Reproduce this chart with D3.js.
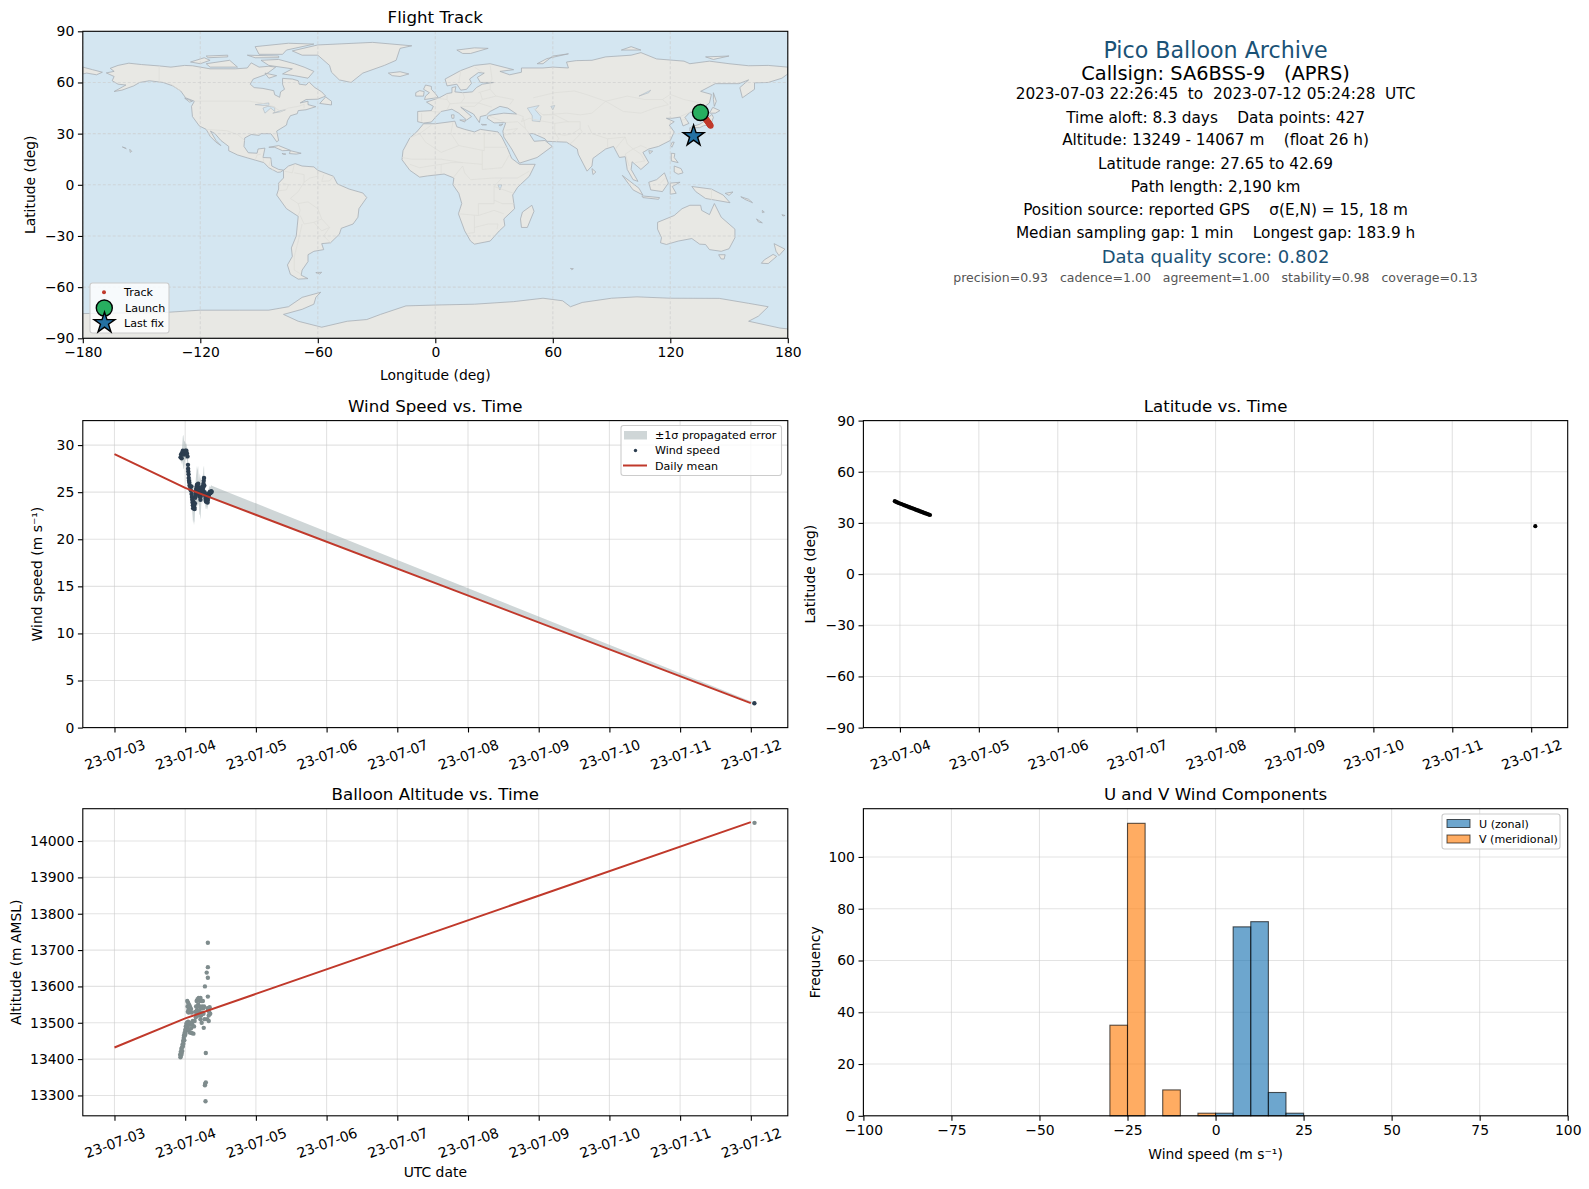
<!DOCTYPE html>
<html>
<head>
<meta charset="utf-8">
<script src="https://cdn.jsdelivr.net/npm/d3@7"></script>
<style>
body { margin: 0; background: white; }
svg { display: block; }
text { font-family: "DejaVu Sans", sans-serif; fill: black; white-space: pre; }
</style>
</head>
<body>
<svg id="fig" width="1589" height="1189"></svg>
<script>
// land outlines as [lon, lat]
const land = [
  [[-168,65.6],[-164,66.5],[-166,68.3],[-162,70],[-156.5,71.3],[-150,70.5],[-141,69.7],[-135,69],[-128,70],[-124,69.8],[-115,68],[-108,68],[-102,68],[-96,68.5],[-94,71.5],[-90,69],[-85,69.5],[-81.5,69],[-85,66],[-87,64.5],[-93,62],[-94.5,59],[-92.5,57],[-88,56.5],[-82.5,55.2],[-82,52.8],[-79.5,51.3],[-79,54.5],[-77,56],[-78,59],[-78,62.4],[-73,62],[-70,61],[-69.5,59],[-66,58.5],[-64.5,60.3],[-61.5,57],[-58,54.5],[-56,52],[-60,50.2],[-66,50],[-69,48],[-65,49],[-65,47],[-61,45.8],[-66,44],[-70,43.5],[-70.5,41.7],[-74,40.5],[-75.5,37.5],[-76,35],[-81,31.5],[-80,26],[-81,25.2],[-82.7,28],[-84,30],[-89,30],[-90,29],[-94,29.5],[-97.3,27.5],[-97.7,22.5],[-95.5,18.8],[-91,18.5],[-90.5,21],[-87,21.5],[-88,16],[-84,15.8],[-83.5,11],[-80,9],[-77.5,8.6],[-79,7.5],[-80.5,7.3],[-85,10],[-87.5,13],[-92,14.5],[-96,15.8],[-101,17.5],[-105.5,20],[-105.5,22.5],[-109.5,26],[-112.5,30],[-114.8,31.5],[-112,26],[-109.5,23],[-112,25],[-115,28.5],[-117,32.5],[-120.5,34.5],[-124,40],[-124.5,46],[-123,49],[-127.5,51],[-130,55],[-134,58],[-139,60],[-146,61],[-151,60],[-154,58],[-160,55.5],[-164,54.7],[-158,58.5],[-162,59],[-165,61],[-164,63.5]],
  [[-73,78.5],[-60,82],[-32,83.5],[-12,81.5],[-18,80],[-20,73],[-26,70],[-37,65.5],[-43,60],[-49,61.5],[-53,66],[-54,70],[-60,76],[-68,76]],
  [[-80,73.5],[-72,71],[-67,69],[-62,66.5],[-65,62.5],[-72,64],[-78,65],[-73,68],[-85,70],[-89,73]],
  [[-90,76.5],[-78,76.5],[-76,79],[-62,82.5],[-75,83],[-92,81]],
  [[-117,71],[-105,73],[-101,69],[-115,69]],
  [[-125,72],[-118,74.5],[-115,73],[-120,71]],
  [[-96,76],[-80,75.5],[-80,74.5],[-92,74.5]],
  [[-117,75.5],[-106,76],[-106,75],[-116,74.5]],
  [[-87,65.5],[-81,64],[-85,62.5]],
  [[-59,47.7],[-53,46.8],[-53,49],[-56,51.5]],
  [[-128,50.8],[-124,49],[-125.5,48.5]],
  [[-85,22],[-80,23],[-74,20.2],[-78,20],[-82,22]],
  [[-74,20],[-68.5,18.5],[-71,18],[-74.5,18.3]],
  [[-78.3,18.4],[-76.3,18],[-77.5,17.8]],
  [[-156,20.8],[-155,19.6],[-155.8,19]],
  [[-159.8,22.2],[-158,21.4],[-157.8,21.2]],
  [[-77.5,8.5],[-75,11],[-71.5,12.4],[-68,11],[-62,10.5],[-60,8.5],[-52,5],[-50,0.5],[-44,-2.5],[-37,-4.8],[-35,-7.5],[-39,-14],[-39.5,-19],[-42,-23],[-48,-25.5],[-49,-29],[-53.5,-34],[-58,-34.5],[-57,-38],[-62,-39],[-65,-41],[-65,-45],[-68,-50],[-68.5,-53],[-65,-55],[-70,-55.3],[-74,-52.5],[-75.5,-47],[-73,-42],[-73.5,-37],[-71,-30],[-70,-18.5],[-76,-14],[-81,-6],[-80,-2.5],[-80,1],[-77.5,4]],
  [[-61,-51.5],[-58,-51.3],[-59,-52.3]],
  [[-6,35.8],[0,35.8],[10,37.3],[11,34],[15,32.5],[20,31],[23,32.5],[32,31],[34,28],[37,21],[39,15.5],[43,12],[51,12],[48,5],[42,-1.5],[39.5,-6],[40.5,-14],[35,-20],[35.5,-24],[32.7,-27],[28,-33],[20,-34.8],[18,-33],[15,-27],[11.8,-17],[13.5,-11],[12,-5],[9,0],[9.5,4],[4.5,6.3],[-4,5.2],[-8,4.5],[-13,8.5],[-17,14.7],[-16.5,20],[-13,27.5],[-9.5,31]],
  [[49.3,-12],[50.4,-15.5],[47,-25],[44,-25],[43.5,-20],[44.5,-16]],
  [[-9,37],[-9,43],[-2,43.5],[-1,46],[-4.5,48.5],[2,51],[6,53.5],[8.5,54],[8.5,57],[10.5,57.5],[10,54.5],[14,54],[19,54.5],[21,57],[24,59],[30,60],[23,60],[21.5,63],[25,65.5],[22,65.8],[17.5,62],[18.5,59.5],[16,56],[13,55.5],[11,59],[6,58],[5,62],[13,67],[20,70],[28,71],[40,67.5],[33,66.5],[38,64.5],[44,66],[44,68.5],[55,68.5],[60,69],[68,68.5],[67,72],[72,72.8],[80,73],[87,75],[100,76],[105,77.5],[113,73.8],[127,72.5],[130,71],[140,72.5],[150,71],[160,69.8],[170,70],[180,69],[180,65],[177,62.5],[170,60],[163,59.8],[163,56],[156.8,51],[155.5,57],[160,61.5],[155,59.3],[143,59.3],[135.5,54.8],[141,53],[140,48],[135,43.5],[130,42.5],[127.5,39.5],[129.5,36],[126.5,34.5],[125,39.7],[121,39],[118,39],[122,37],[119.5,35],[122,31],[120,26],[114,22.5],[109,21],[106,19],[109,13],[105,9],[100.5,13.5],[100,9],[103.5,2],[101,3],[98,9],[97,16.5],[94,16],[91,22.5],[87,21],[80.5,15.5],[80,11],[77.5,8],[73,18],[72.5,21],[67,25],[57,25.5],[56,27],[50,30],[48,30],[50.5,25.5],[56,26],[59.7,22.5],[52,16],[43,12.7],[39,21],[35,28],[34.5,31.5],[36,36.5],[30,36.3],[26.5,39],[27,40.5],[29,41],[35,42],[41.5,41.5],[37,45],[33,46],[28,43],[26,40.8],[23,40],[22.5,36.5],[19.5,41.5],[13,45.5],[18.5,40],[16,38],[12,42],[8.5,44.3],[3,43],[0,39.5],[-2,36.8],[-6,36.2]],
  [[-180,69],[-175,67.5],[-170,66],[-173,64.5],[-178,65.5],[-180,65]],
  [[130.9,34],[135,35.5],[137,37],[140,40],[141.3,41.3],[142,39.5],[140.8,35.7],[137,34.6],[135,33.5],[132,33.5]],
  [[140,42],[141.7,45.4],[145.3,43.5],[143,42]],
  [[130,33.5],[131.8,33],[131,31],[130,31.5]],
  [[142,54],[143.5,49],[142.5,46],[142,50]],
  [[121,25],[122,25],[120.8,22],[120.2,23]],
  [[109,20],[111,19.7],[109.5,18.2]],
  [[80,9.5],[82,7.5],[80.5,6]],
  [[120.5,18.5],[122.3,18.3],[122,16],[124,13],[120.5,14]],
  [[122,11],[125.5,9.5],[126.5,7],[124,6.2],[122,7.5]],
  [[95.5,5.5],[104,-2],[106,-6],[101,-3]],
  [[105.5,-6.5],[114.5,-7.5],[114,-8.5],[106,-7.5]],
  [[109,1.5],[113,3],[117,7],[119,1],[116,-4],[110,-3]],
  [[120,1],[125,1.5],[121,-1],[123,-5],[120,-5.5]],
  [[131,-1],[141,-2.5],[147,-6],[150.5,-10.5],[143,-9],[138,-8],[133,-4]],
  [[148,-5],[152,-4.2],[150,-6.2]],
  [[156,-7],[160,-8.5],[162,-10.5],[158,-8.5]],
  [[164,-20],[167,-22.3],[165,-21.8]],
  [[167,-15],[168,-16],[167,-16.3]],
  [[177,-17.5],[178.6,-18],[177.5,-18.3]],
  [[113.5,-22],[122,-18],[126,-14],[130,-12],[135.5,-12],[136,-15],[140,-17.5],[142.5,-11],[146,-19],[153,-26],[153,-31],[150,-37.5],[146,-39],[140,-38],[138,-35],[135,-34.8],[131,-31.5],[124,-33],[118,-35],[115,-34],[115.5,-31],[113.5,-26]],
  [[144.7,-41],[148,-41],[147.5,-43.5],[146,-43.5]],
  [[173,-34.5],[178.5,-37.7],[175.5,-41.5],[174,-39]],
  [[172.5,-40.8],[174.3,-42],[170,-46.2],[166.5,-46],[168,-44]],
  [[-5.5,50],[1.5,51.2],[0,53.5],[-2,56],[-2,57.7],[-5,58.5],[-6,56],[-3,54],[-5,52]],
  [[-10,52],[-6,52],[-5.7,54.7],[-8,55.2],[-10,54]],
  [[-24,65.5],[-18,66.3],[-13.5,65],[-18,63.5],[-22,64]],
  [[11,79],[20,80.3],[27,80],[18,77],[14,77]],
  [[52,71],[57,74],[68,76.8],[60,75.5],[55,71]],
  [[95,79],[105,79],[100,81]],
  [[138,75],[150,75.5],[142,73.5]],
  [[12.5,38],[15.5,38],[15,36.8]],
  [[8.2,41],[9.6,41],[9.5,39],[8.5,39]],
  [[23.5,35.5],[26.2,35.2],[24,35]],
  [[32.5,35],[34.5,35.6],[33.5,34.6]],
  [[69,-49],[70.5,-49.2],[69.7,-49.8]],
  [[-180,-90],[-180,-75.5],[-150,-75],[-140,-75],[-120,-73.5],[-100,-73.5],[-85,-73.5],[-75,-71.5],[-68,-66],[-58.5,-63],[-61,-66],[-62,-70],[-68,-73],[-77.5,-76],[-70,-80],[-58,-83.5],[-45,-80],[-35,-79],[-28,-76],[-15,-71],[0,-70.5],[20,-70],[40,-68.5],[55,-66.5],[65,-68],[69,-71.5],[75,-69],[90,-66.5],[103,-65.7],[120,-66.5],[145,-66.6],[160,-69.5],[170,-71.5],[165,-77],[160,-80],[176,-84],[180,-84.5],[180,-90]]
];
const lakes = [
  [[47,45],[53,46.5],[51,44],[54,40],[53.5,37],[49.5,37.5],[49.5,40.5]],
  [[-92,47],[-85,48],[-85,46.5],[-88,46.5]],
  [[-88,45],[-85.5,46],[-82,45.5],[-82,43],[-84,45],[-87,42]],
  [[-83,42],[-79,43.5],[-76.5,44],[-79,42.8]],
  [[59,46],[61,46.5],[60,44]],
  [[32,0],[34,0],[33,-3]],
  [[104,52],[110,55.5],[109,54]]
];
const borders = [
  [[-123,49],[-95,49],[-89,48],[-83,46],[-79,43],[-75,45],[-70,46],[-67,47.2],[-67,45]],
  [[-141,69.7],[-141,60]],[[-135,59],[-130,55]],
  [[-117,32.5],[-106.5,31.7],[-101,29.5],[-97.3,26]],
  [[-92,14.5],[-91,17.5],[-89,18]],[[-88,16],[-87.5,13]],[[-84,15],[-85,11]],[[-83,9.5],[-83,8]],
  [[-77,8],[-73,7],[-72,12]],[[-72,7],[-67,6],[-67,1.5],[-70,-4],[-74,-8],[-70,-11],[-69,-15],[-70,-18]],
  [[-60,8.5],[-60,5],[-64,4],[-67,1.5]],[[-57,6],[-58,2],[-54,2.3],[-52,5]],
  [[-80,-3.5],[-76,-3],[-75,0],[-78,1]],[[-70,-11],[-65,-10],[-60,-14],[-58,-20],[-54,-25],[-57,-30],[-53.5,-34]],
  [[-58,-20],[-62,-22],[-67,-23],[-69,-18]],[[-62,-22],[-58,-27],[-54,-25]],[[-68,-23],[-70,-33],[-72,-42],[-72,-50],[-68.5,-52.5]],
  [[-2,35],[-8,30],[-13,27.5]],[[9,37],[8,30],[12,23],[25,20],[25,31]],[[-8,30],[-5,25],[3,19],[12,23]],[[25,22],[37,22]],
  [[-17,16],[-12,15],[-5,15],[3,15],[14,13],[24,12],[24,20]],[[-13,12],[-8,10],[-3,11],[3,12],[8,13],[14,13]],
  [[3,12],[3,6.5]],[[9,4],[14,11],[15,7],[18,3],[30,4],[34,4],[42,4],[48,8]],[[24,12],[24,9],[34,10],[36,14],[38,18]],
  [[34,4],[30,-1],[30,-11],[22,-11],[22,-18],[12,-17]],[[30,-1],[40,-5]],[[30,-9],[34,-11],[40,-11]],
  [[22,-18],[30,-15],[35,-17]],[[20,-18],[20,-28],[16.5,-28.5]],[[20,-25],[27,-23],[32,-23],[31.5,-26]],
  [[-1,51],[6,50],[7.5,47.5],[6,44]],[[-2,43],[3,42.5]],[[-7,37],[-7,42]],[[6,53.5],[6,50]],[[14,54],[15,51],[13,48],[7.5,47.5]],
  [[23,54],[24,50],[22,48],[17,48],[13,48]],[[13,46],[20,46],[22,48],[29,45.5]],[[24,50],[31,52],[40,50],[38,47]],
  [[28,56],[28,60]],[[22,54],[28,56],[31,52]],[[28,70],[29,62],[28,60]],[[20,69],[24,66]],[[13,67],[12,60]],
  [[26,41],[36,36.5]],[[44,37],[45,40],[41.5,41.5]],[[36,36.5],[42,37],[46,33],[48,30]],[[36,32],[42,33],[39,30],[35,29]],
  [[46,33],[45,39]],[[44,37],[48,39],[54,37.5],[61,36],[61,31],[63,27],[61.5,25]],[[61,36],[67,37],[74,37],[74,33],[70,30],[66,29],[61,30]],
  [[74,33],[75,31],[70,25],[68,23.5]],[[78,35],[80,30],[88,27],[97,28],[94,24],[92,21]],[[88,27],[88,22]],[[97,28],[98,24],[101,21],[105,23],[108,21.5]],
  [[101,21],[97,18],[99,11]],[[101,21],[105,18],[107,14],[102,13]],[[50,45],[55,41],[61,41],[68,37]],[[55,41],[67,42],[74,41],[80,42],[87,49]],
  [[50,51],[61,54],[71,55],[77,53],[87,49]],[[87,49],[98,52],[107,50],[116,50],[120,53],[127,50],[135,48],[131,43]],[[87,49],[96,43],[105,42],[112,45],[119,47],[116,50]],
  [[125,40],[130,42.5]],[[126,38],[128.5,38.5]],[[141,-2.5],[141,-9]],[[115,1],[117.5,4]]
];

// track, hours after 2023-07-03 00:00 UTC
const latHours = [22.44,22.8,23.2,23.6,24,24.4,24.8,25.2,25.6,26,26.4,26.8,27.2,27.6,28,28.4,28.8,29.2,29.6,30,30.4,30.8,31.2,31.6,32,32.4,32.8,33.15,217.25];
const latDeg = [42.75,42.35,42.05,41.7,41.4,41.1,40.8,40.5,40.2,39.9,39.6,39.3,39,38.7,38.4,38.1,37.8,37.5,37.2,36.9,36.6,36.3,36,35.7,35.4,35.2,34.9,34.65,28.1];
const lonDeg = [135.4,135.6,135.8,136,136.2,136.4,136.6,136.8,137,137.2,137.4,137.6,137.8,138,138.2,138.4,138.6,138.8,139,139.2,139.4,139.6,139.8,140,140.1,140.2,140.4,140.6,131.9];

const windHours = [22.44,22.6,22.8,23,23.2,23.4,23.6,23.8,24,24.2,24.4,24.6,24.8,24.95,25,25.05,25.15,25.2,25.3,25.4,25.5,25.7,25.9,26.1,26.2,26.3,26.4,26.5,26.6,26.7,26.8,26.9,27,27.1,27.2,27.3,27.4,27.5,27.6,27.7,27.8,27.9,28,28.1,28.2,28.3,28.4,28.5,28.6,28.7,28.8,28.9,29,29.1,29.2,29.3,29.4,29.5,29.6,29.7,29.8,29.9,30,30.1,30.2,30.3,30.4,30.5,30.6,30.7,30.8,30.9,31,31.1,31.2,31.3,31.4,31.5,31.6,31.7,31.8,31.9,32,32.1,32.2,32.3,32.4,32.5,32.6,32.7,32.8,33,217.2];
const windSpeed = [28.7,29,28.6,29.2,29.4,29.3,29,29.2,29.4,29.3,29.4,29.1,28.8,27.9,27.5,27.2,26.9,26.5,26.2,26,25.7,25.6,25.2,25.6,24.8,24.5,24.2,23.9,23.6,23.3,24,23.8,23.6,23.4,23.2,23.8,24.4,24.6,24.9,25.2,25.4,25.6,25.8,25.6,25.4,25.6,25.9,25.4,25,24.8,24.6,24.7,24.8,24.5,24.2,24.6,24.9,25,25.2,25.4,25.6,25.4,25.2,25.5,25.9,26.2,26.5,25.7,25,24.8,24.6,24.3,24.1,24,24,24.2,24.3,24.1,23.9,24.2,24.5,24.6,24.7,24.8,24.9,25,25,24.9,24.9,25,25.1,25.05,2.58];
const windSigma = [0.5,0.6,0.6,0.9,1.5,1.8,1.5,1.2,0.9,0.8,0.8,0.7,0.8,0.9,0.9,0.9,0.9,0.9,1,1,1,1,1,1,1.1,1.2,1.3,1.4,1.6,1.6,1.9,2,2.1,1.6,1.3,1.2,1.2,1.3,1.5,1.6,1.7,1.9,2,2,1.9,1.9,1.9,1.6,1.4,1.2,1.9,2.1,2.2,2.2,2.1,1.9,1.6,1,1,1.1,1.3,1.3,1.4,1.5,1.6,1.5,1.3,1.1,1,0.9,0.9,0.9,0.9,0.8,0.8,0.8,0.8,0.8,0.8,0.7,0.7,0.7,0.7,0.65,0.65,0.65,0.65,0.65,0.65,0.65,0.65,0.64,0.05];
const windDays = ["2023-07-03","2023-07-04","2023-07-12"];
const windDailyMean = [29.05,25.45,2.6];

const altHours = [22.3,22.4,22.5,22.6,22.7,22.8,22.9,23,23.1,23.2,23.3,23.4,23.5,23.6,23.7,23.8,23.9,24,24.1,24.2,24.3,24.4,24.5,24.6,24.8,25,25.2,25.4,25.6,25.8,26,26.2,26.4,26.6,26.8,27,27.2,24.7,24.8,24.9,25,25.1,25.2,25.3,25.4,25.5,25.6,25.8,26,26.2,27.4,27.6,27.7,27.9,28,28.1,28.2,28.4,28.5,28.6,28.8,28.9,29,29.2,29.3,29.4,29.6,29.7,29.8,30,30.1,30.2,29.2,29.6,30.3,30.7,30.7,30.8,30.9,31,31,31.3,31.7,31.7,31.7,31.7,31.5,32,31.9,32.3,32.5,32,32.1,31.6,30.4,30.6,217.25];
const altMeters = [13412,13405,13420,13410,13428,13415,13432,13422,13440,13435,13450,13442,13458,13465,13452,13472,13465,13480,13470,13490,13478,13497,13485,13500,13490,13503,13480,13495,13473,13500,13485,13472,13495,13505,13470,13490,13505,13560,13545,13530,13555,13535,13528,13550,13540,13530,13545,13530,13538,13528,13530,13515,13545,13560,13535,13525,13565,13550,13520,13568,13545,13530,13560,13568,13540,13520,13560,13545,13528,13560,13540,13525,13510,13500,13486,13600,13328,13332,13284,13417,13336,13638,13720,13653,13624,13572,13510,13520,13535,13543,13525,13505,13530,13540,13545,13510,14050];
const altDays = ["2023-07-03","2023-07-04","2023-07-12"];
const altDailyMean = [13432,13512,14052];

const histEdges = d3.range(-100, 101, 5);
// counts per 5 m/s bin, starting at -100
const uCounts = [0,0,0,0,0,0,0,0,0,0,0,0,0,0,0,0,0,0,0,0,1,73,75,9,1,0,0,0,0,0,0,0,0,0,0,0,0,0,0,0];
const vCounts = [0,0,0,0,0,0,0,0,0,0,0,0,0,0,35,113,0,10,0,1,0,0,0,0,0,0,0,0,0,0,0,0,0,0,0,0,0,0,0,0];

const lonTicks = [-180,-120,-60,0,60,120,180];
const latTicks = [-90,-60,-30,0,30,60,90];
const dateTicksFull = ["2023-07-03","2023-07-04","2023-07-05","2023-07-06","2023-07-07","2023-07-08","2023-07-09","2023-07-10","2023-07-11","2023-07-12"];
const infoLines = [
  "2023-07-03 22:26:45  to  2023-07-12 05:24:28  UTC",
  "Time aloft: 8.3 days    Data points: 427",
  "Altitude: 13249 - 14067 m    (float 26 h)",
  "Latitude range: 27.65 to 42.69",
  "Path length: 2,190 km",
  "Position source: reported GPS    σ(E,N) = 15, 18 m",
  "Median sampling gap: 1 min    Longest gap: 183.9 h"
];

const colors = {ocean:"#d4e6f1", land:"#e8e8e4", coast:"#a8afb5", border:"#dcdcd8", red:"#c0392b", green:"#27ae60", star:"#2471a3", navy:"#2c3e50", slate:"#7f8c8d", band:"#95a5a6", grid:"#cccccc", title:"#1a5276"};

const svg = d3.select("#fig");
const leftX = [82.8, 787.8], rightX = [863.4, 1567.7];
const rowY = [[31.3, 338.3], [420.6, 727.6], [808.7, 1115.8]];
const parseDay = d3.utcParse("%Y-%m-%d");
const fmtDay = d3.utcFormat("%y-%m-%d");
const base = parseDay("2023-07-03");
const fromHours = h => new Date(base.getTime() + h * 3600000);
const DAY = 24;
const minus = d => String(d).replace("-", "−");

function makePanel(xr, yr, title, clipId) {
  let g = svg.append("g");
  g.append("clipPath").attr("id", clipId).append("rect")
    .attr("x", xr[0]).attr("y", yr[0]).attr("width", xr[1] - xr[0]).attr("height", yr[1] - yr[0]);
  g.append("text").attr("x", (xr[0] + xr[1]) / 2).attr("y", yr[0] - 8.5)
    .attr("text-anchor", "middle").style("font-size", "16.67px").text(title);
  return g;
}

function drawAxes(g, xr, yr, xAxis, yAxis, rotate) {
  let ax = g.append("g").attr("transform", `translate(0,${yr[1]})`)
    .call(xAxis.tickSizeOuter(0))
    .call(a => a.select(".domain").remove())
    .call(a => a.selectAll("text").style("font-size", "13.9px"))
    .call(a => a.selectAll("line").attr("stroke", "black").attr("stroke-width", 1.1).attr("y2", 4.9));
  if (rotate) {
    ax.selectAll(".tick text").attr("text-anchor", "middle").attr("dy", null).attr("y", 32)
      .attr("transform", "rotate(-20,0,27)");
  }
  g.append("g").attr("transform", `translate(${xr[0]},0)`)
    .call(yAxis.tickSizeOuter(0))
    .call(a => a.select(".domain").remove())
    .call(a => a.selectAll("text").style("font-size", "13.9px").attr("x", -8.5))
    .call(a => a.selectAll("line").attr("stroke", "black").attr("stroke-width", 1.1).attr("x2", -4.9));
  g.append("rect").attr("x", xr[0]).attr("y", yr[0]).attr("width", xr[1] - xr[0]).attr("height", yr[1] - yr[0])
    .attr("fill", "none").attr("stroke", "black").attr("stroke-width", 1.1);
}

function drawGrid(g, xVals, yVals, x, y, xr, yr, dashed) {
  let grid = g.append("g").attr("stroke", colors.grid).attr("stroke-width", 1.1)
    .attr("stroke-opacity", dashed ? 0.6 : 0.55);
  if (dashed) grid.attr("stroke-dasharray", "3,2");
  grid.selectAll(".gx").data(xVals).enter().append("line")
    .attr("x1", d => x(d)).attr("x2", d => x(d)).attr("y1", yr[0]).attr("y2", yr[1]);
  grid.selectAll(".gy").data(yVals).enter().append("line")
    .attr("x1", xr[0]).attr("x2", xr[1]).attr("y1", d => y(d)).attr("y2", d => y(d));
}

function legendBox(g, x, y, w, h) {
  g.append("rect").attr("x", x).attr("y", y).attr("width", w).attr("height", h).attr("rx", 2.5)
    .attr("fill", "white").attr("fill-opacity", 0.8).attr("stroke", "#cccccc").attr("stroke-width", 1.1);
}
function legendText(g, x, y, s) {
  g.append("text").attr("x", x).attr("y", y).style("font-size", "11.1px").text(s);
}
function xLabel(g, xr, y, s) {
  g.append("text").attr("x", (xr[0] + xr[1]) / 2).attr("y", y).attr("text-anchor", "middle").style("font-size", "13.9px").text(s);
}
function yLabel(g, x, yr, s) {
  g.append("text").attr("transform", `translate(${x},${(yr[0] + yr[1]) / 2}) rotate(-90)`)
    .attr("text-anchor", "middle").style("font-size", "13.9px").text(s);
}

// ---- map
{
  let xr = leftX, yr = rowY[0];
  let g = makePanel(xr, yr, "Flight Track", "clipMap");
  let x = d3.scaleLinear([-180, 180], xr);
  let y = d3.scaleLinear([-90, 90], [yr[1], yr[0]]);
  let line = d3.line().x(d => x(d[0])).y(d => y(d[1]));
  g.append("rect").attr("x", xr[0]).attr("y", yr[0]).attr("width", xr[1] - xr[0]).attr("height", yr[1] - yr[0]).attr("fill", colors.ocean);
  let m = g.append("g").attr("clip-path", "url(#clipMap)");
  m.selectAll(".land").data(land).enter().append("path")
    .attr("d", d => line(d) + "Z").attr("fill", colors.land).attr("stroke", colors.coast).attr("stroke-width", 0.8).attr("stroke-linejoin", "round");
  m.selectAll(".lake").data(lakes).enter().append("path")
    .attr("d", d => line(d) + "Z").attr("fill", colors.ocean).attr("stroke", colors.coast).attr("stroke-width", 0.5);
  m.selectAll(".border").data(borders).enter().append("path")
    .attr("d", d => line(d)).attr("fill", "none").attr("stroke", colors.border).attr("stroke-width", 0.7);
  drawGrid(m, lonTicks, latTicks, x, y, xr, yr, true);
  m.selectAll(".track").data(lonDeg.slice(0, -1)).enter().append("circle")
    .attr("cx", d => x(d)).attr("cy", (d, i) => y(latDeg[i])).attr("r", 3).attr("fill", colors.red);
  m.append("circle").attr("cx", x(lonDeg[0])).attr("cy", y(latDeg[0] - 0.4)).attr("r", 8)
    .attr("fill", colors.green).attr("stroke", "black").attr("stroke-width", 1.4);
  m.append("path").attr("d", d3.symbol(d3.symbolStar, 136)())
    .attr("transform", `translate(${x(lonDeg[lonDeg.length - 1])},${y(latDeg[latDeg.length - 1] + 0.5)})`)
    .attr("fill", colors.star).attr("stroke", "black").attr("stroke-width", 1.4);
  drawAxes(g, xr, yr, d3.axisBottom(x).tickValues(lonTicks).tickFormat(minus), d3.axisLeft(y).tickValues(latTicks).tickFormat(minus));
  xLabel(g, xr, 380, "Longitude (deg)");
  yLabel(g, 35, yr, "Latitude (deg)");
  legendBox(g, 90, 283, 79, 50);
  g.append("circle").attr("cx", 104).attr("cy", 292.3).attr("r", 2).attr("fill", colors.red);
  g.append("circle").attr("cx", 104.3).attr("cy", 308).attr("r", 8).attr("fill", colors.green).attr("stroke", "black").attr("stroke-width", 1.4);
  g.append("path").attr("d", d3.symbol(d3.symbolStar, 136)()).attr("transform", "translate(104.5,323)")
    .attr("fill", colors.star).attr("stroke", "black").attr("stroke-width", 1.4);
  legendText(g, 124, 296, "Track");
  legendText(g, 125, 312, "Launch");
  legendText(g, 124, 327, "Last fix");
}

// ---- text block
{
  let cx = (rightX[0] + rightX[1]) / 2;
  let put = (y, size, color, s) => svg.append("text").attr("x", cx).attr("y", y).attr("text-anchor", "middle")
    .style("font-size", size).style("fill", color).text(s);
  put(58, "22.2px", colors.title, "Pico Balloon Archive");
  put(79.5, "19.4px", "black", "Callsign: SA6BSS-9   (APRS)");
  let ys = [99, 122.5, 145, 168.5, 191.5, 214.5, 237.5];
  infoLines.forEach((s, i) => put(ys[i], "15.3px", "black", s));
  put(263, "18px", colors.title, "Data quality score: 0.802");
  put(282, "12.5px", "#555555", "precision=0.93   cadence=1.00   agreement=1.00   stability=0.98   coverage=0.13");
}

// ---- wind speed
{
  let xr = leftX, yr = rowY[1];
  let g = makePanel(xr, yr, "Wind Speed vs. Time", "clipWind");
  let x = d3.scaleUtc([fromHours(-0.448 * DAY), fromHours(9.523 * DAY)], xr);
  let y = d3.scaleLinear([0, 32.6], [yr[1], yr[0]]);
  let ticks = dateTicksFull.map(parseDay);
  drawGrid(g, ticks, [0, 5, 10, 15, 20, 25, 30], x, y, xr, yr);
  let body = g.append("g").attr("clip-path", "url(#clipWind)");
  let band = d3.area().x(d => x(fromHours(d))).y0((d, i) => y(windSpeed[i] - windSigma[i])).y1((d, i) => y(windSpeed[i] + windSigma[i]));
  body.append("path").attr("d", band(windHours)).attr("fill", colors.band).attr("fill-opacity", 0.45);
  body.selectAll(".pt").data(windHours).enter().append("circle")
    .attr("cx", d => x(fromHours(d))).attr("cy", (d, i) => y(windSpeed[i])).attr("r", 2.2).attr("fill", colors.navy);
  let mean = d3.line().x((d, i) => x(parseDay(windDays[i]))).y(d => y(d));
  body.append("path").attr("d", mean(windDailyMean)).attr("fill", "none").attr("stroke", colors.red).attr("stroke-width", 2);
  drawAxes(g, xr, yr, d3.axisBottom(x).tickValues(ticks).tickFormat(fmtDay), d3.axisLeft(y).tickValues([0, 5, 10, 15, 20, 25, 30]), true);
  yLabel(g, 42, yr, "Wind speed (m s⁻¹)");
  legendBox(g, 621, 425.5, 160.5, 50);
  g.append("rect").attr("x", 624).attr("y", 431).attr("width", 23).attr("height", 8.5).attr("fill", colors.band).attr("fill-opacity", 0.45);
  g.append("circle").attr("cx", 635.5).attr("cy", 450.5).attr("r", 1.7).attr("fill", colors.navy);
  g.append("line").attr("x1", 623).attr("x2", 647).attr("y1", 465.5).attr("y2", 465.5).attr("stroke", colors.red).attr("stroke-width", 2);
  legendText(g, 655, 439, "±1σ propagated error");
  legendText(g, 655, 454, "Wind speed");
  legendText(g, 655, 470, "Daily mean");
}

// ---- latitude
{
  let xr = rightX, yr = rowY[1];
  let g = makePanel(xr, yr, "Latitude vs. Time", "clipLat");
  let x = d3.scaleUtc([fromHours((1 - 0.463) * DAY), fromHours((9 + 0.4626) * DAY)], xr);
  let y = d3.scaleLinear([-90, 90], [yr[1], yr[0]]);
  let ticks = dateTicksFull.slice(1).map(parseDay);
  drawGrid(g, ticks, latTicks, x, y, xr, yr);
  g.selectAll(".pt").data(latHours).enter().append("circle")
    .attr("cx", d => x(fromHours(d))).attr("cy", (d, i) => y(latDeg[i])).attr("r", 2.1).attr("fill", "black");
  drawAxes(g, xr, yr, d3.axisBottom(x).tickValues(ticks).tickFormat(fmtDay), d3.axisLeft(y).tickValues(latTicks).tickFormat(minus), true);
  yLabel(g, 815, yr, "Latitude (deg)");
}

// ---- altitude
{
  let xr = leftX, yr = rowY[2];
  let g = makePanel(xr, yr, "Balloon Altitude vs. Time", "clipAlt");
  let x = d3.scaleUtc([fromHours(-0.448 * DAY), fromHours(9.523 * DAY)], xr);
  let y = d3.scaleLinear([13244, 14089], [yr[1], yr[0]]);
  let ticks = dateTicksFull.map(parseDay);
  let yVals = d3.range(13300, 14001, 100);
  drawGrid(g, ticks, yVals, x, y, xr, yr);
  let body = g.append("g").attr("clip-path", "url(#clipAlt)");
  body.selectAll(".pt").data(altHours).enter().append("circle")
    .attr("cx", d => x(fromHours(d))).attr("cy", (d, i) => y(altMeters[i])).attr("r", 2.2).attr("fill", colors.slate);
  let mean = d3.line().x((d, i) => x(parseDay(altDays[i]))).y(d => y(d));
  body.append("path").attr("d", mean(altDailyMean)).attr("fill", "none").attr("stroke", colors.red).attr("stroke-width", 2);
  drawAxes(g, xr, yr, d3.axisBottom(x).tickValues(ticks).tickFormat(fmtDay), d3.axisLeft(y).tickValues(yVals).tickFormat(d3.format("d")), true);
  xLabel(g, xr, 1177, "UTC date");
  yLabel(g, 21, yr, "Altitude (m AMSL)");
}

// ---- histogram
{
  let xr = rightX, yr = rowY[2];
  let g = makePanel(xr, yr, "U and V Wind Components", "clipHist");
  let x = d3.scaleLinear([-100, 100], xr);
  let y = d3.scaleLinear([0, 118.65], [yr[1], yr[0]]);
  let xVals = d3.range(-100, 101, 25), yVals = d3.range(0, 101, 20);
  drawGrid(g, xVals, yVals, x, y, xr, yr);
  [[uCounts, "#1f77b4"], [vCounts, "#ff7f0e"]].forEach(([counts, c]) => {
    g.append("g").selectAll("rect").data(counts).enter().append("rect")
      .attr("x", (d, i) => x(histEdges[i])).attr("width", (d, i) => x(histEdges[i + 1]) - x(histEdges[i]))
      .attr("y", d => y(d)).attr("height", d => y(0) - y(d))
      .attr("fill", c).attr("fill-opacity", 0.65).attr("stroke", "black").attr("stroke-opacity", 0.65).attr("stroke-width", 1.1);
  });
  drawAxes(g, xr, yr, d3.axisBottom(x).tickValues(xVals).tickFormat(minus), d3.axisLeft(y).tickValues(yVals));
  xLabel(g, xr, 1159, "Wind speed (m s⁻¹)");
  yLabel(g, 820, yr, "Frequency");
  legendBox(g, 1442, 814, 118, 35);
  g.append("rect").attr("x", 1447).attr("y", 819.5).attr("width", 23).attr("height", 8).attr("fill", "#1f77b4").attr("fill-opacity", 0.65).attr("stroke", "black").attr("stroke-opacity", 0.65);
  g.append("rect").attr("x", 1447).attr("y", 835).attr("width", 23).attr("height", 8).attr("fill", "#ff7f0e").attr("fill-opacity", 0.65).attr("stroke", "black").attr("stroke-opacity", 0.65);
  legendText(g, 1479, 828, "U (zonal)");
  legendText(g, 1479, 843, "V (meridional)");
}
</script>
</body>
</html>
